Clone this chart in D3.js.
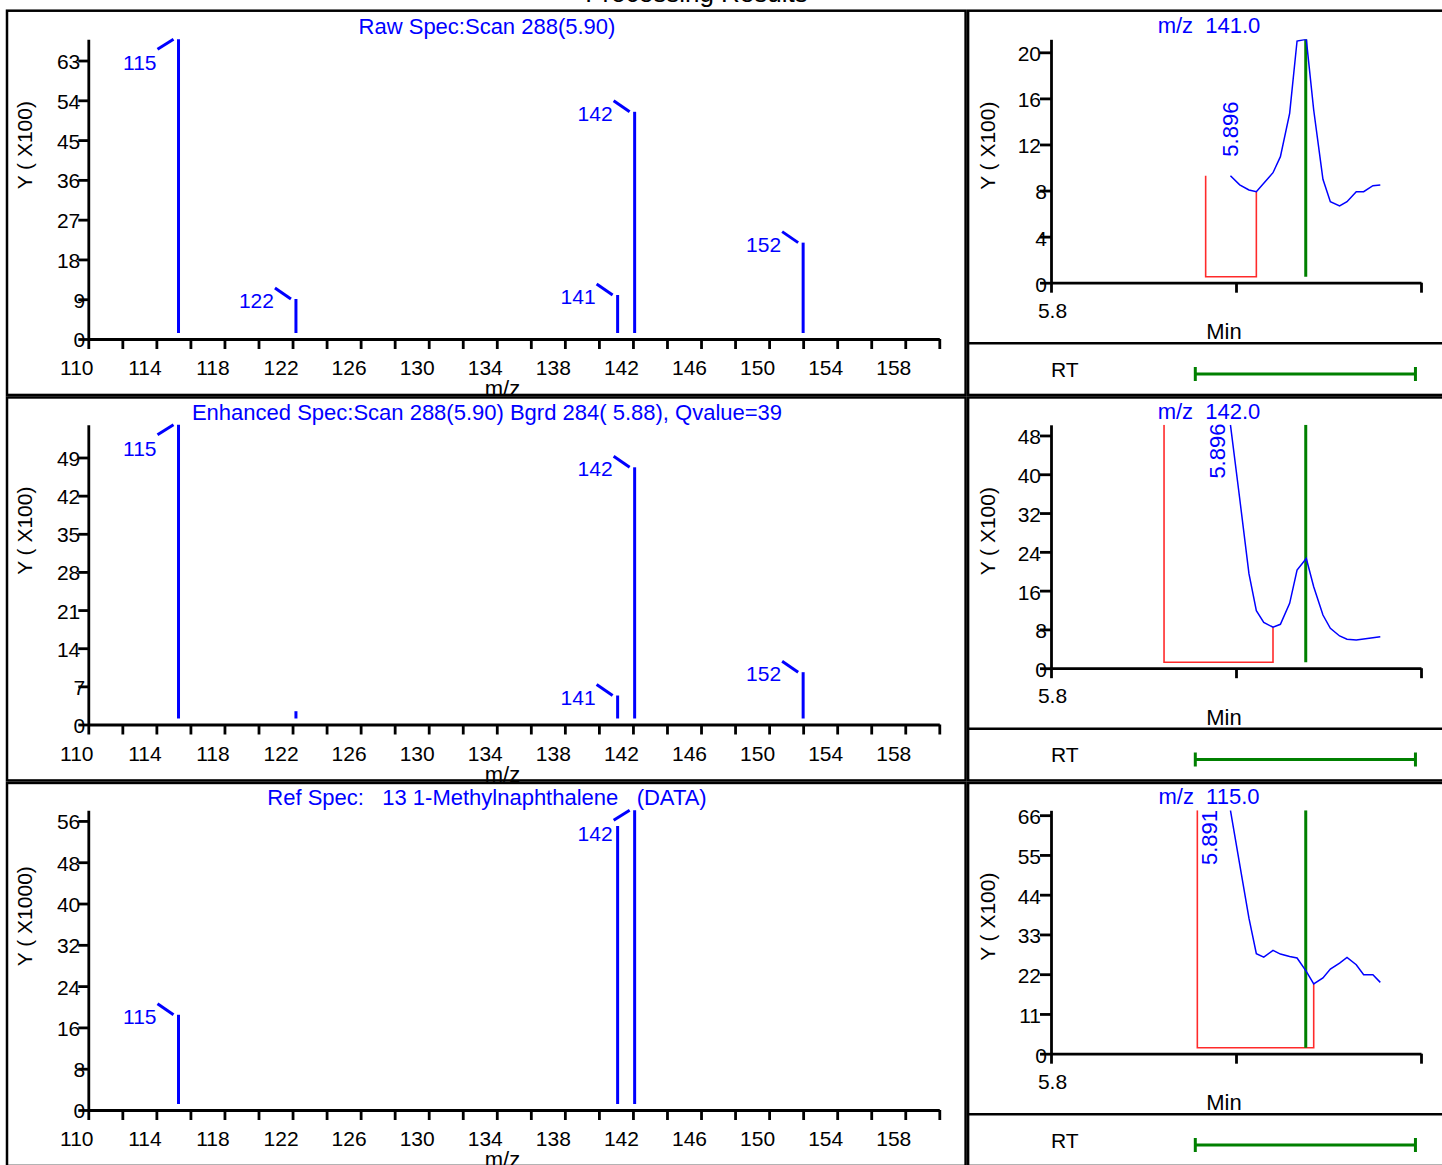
<!DOCTYPE html>
<html><head><meta charset="utf-8">
<script src="https://cdn.jsdelivr.net/npm/d3@7"></script>
<style>
html,body{margin:0;padding:0;background:#fff;overflow:hidden}
svg{display:block}
text{font-family:"Liberation Sans",Arial,Helvetica,sans-serif;white-space:pre}
</style></head><body>
<svg id="c" width="1442" height="1165"></svg>
<script>
// ---------------- data ----------------
const pageTitle = "Processing Results";

const specTitles = ["Raw Spec:Scan 288(5.90)",
  "Enhanced Spec:Scan 288(5.90) Bgrd 284( 5.88), Qvalue=39",
  "Ref Spec:   13 1-Methylnaphthalene   (DATA)"];
const specYLabels = ["Y ( X100)", "Y ( X100)", "Y ( X1000)"];
const mzTicks = [110,112,114,116,118,120,122,124,126,128,130,132,134,136,138,140,142,144,146,148,150,152,154,156,158,160];
const mzTickLabels = [110,114,118,122,126,130,134,138,142,146,150,154,158];

const rawMax = 67.8;
const rawTicks = [0,9,18,27,36,45,54,63];
const rawMz = [115.3, 122.2, 141.1, 142.1, 152.0];
const rawInt = [67.8, 9.05, 9.95, 51.4, 21.8];
const rawLabels = ["115","122","141","142","152"];
const rawDir = ["up","down","down","down","down"];

const enhMax = 55.0;
const enhTicks = [0,7,14,21,28,35,42,49];
const enhMz = [115.3, 122.2, 141.1, 142.1, 152.0];
const enhInt = [55.0, 2.44, 5.32, 47.2, 9.6];
const enhLabels = ["115","","141","142","152"];
const enhDir = ["up","","down","down","down"];

const refMax = 58.06;
const refTicks = [0,8,16,24,32,40,48,56];
const refMz = [115.3, 141.1, 142.1];
const refInt = [18.45, 55.0, 58.06];
const refLabels = ["115","","142"];
const refDir = ["down","","up"];

const chromTitles = ["m/z  141.0", "m/z  142.0", "m/z  115.0"];
const chromTime = [5.897,5.902,5.907,5.911,5.915,5.920,5.924,5.929,5.933,5.938,5.942,5.947,5.951,5.956,5.960,5.965,5.969,5.974,5.978];
const chrom141 = [9.29,8.50,8.05,7.90,8.63,9.55,10.94,14.70,20.98,21.13,14.99,8.98,7.03,6.66,7.03,7.90,7.90,8.42,8.48];
const chrom142 = [50.2,35.0,19.5,11.85,9.46,8.44,9.05,13.37,20.23,22.63,16.79,10.97,8.23,6.65,5.97,5.82,6.03,6.30,6.50];
const chrom115 = [67.35,52.4,37.5,27.65,26.74,28.57,27.57,26.91,26.47,22.77,19.30,20.95,23.43,25.09,26.63,24.62,21.86,21.86,19.74];
const chromMax = [21.13, 50.2, 67.35];
const chromYTicks = [[0,4,8,12,16,20],[0,8,16,24,32,40,48],[0,11,22,33,44,55,66]];
const timeTicks = [5.8, 5.9, 6.0];
const timeTickLabels = ["5.8", "", ""];
const integStart = [5.8836, 5.8611, 5.8791];
const integEnd = [5.911, 5.920, 5.942];
const integStartH = [9.29, 50.2, 67.35];
const integEndH = [7.90, 8.44, 19.30];
const apexTime = [5.9377, 5.9377, 5.9377];
const rtLabels = ["5.896", "5.896", "5.891"];
const rtLabelTime = [5.9011, 5.894, 5.8896];
const rtLabelVal = [10.94, 39.1, 52.2];
const rtWindow = [5.878, 5.997];

// ---------------- drawing ----------------
const BLUE = "#0000ff", GREEN = "#008000", RED = "#ff2a2a";
const svg = d3.select("#c");
svg.append("rect").attr("width",1442).attr("height",1165).attr("fill","#fff");
const defs = svg.append("defs");

const row0 = 10.7, rowH = 385.5;

svg.append("text").attr("x",696.5).attr("y",2).attr("text-anchor","middle")
  .attr("font-size",26).attr("fill","#000").text(pageTitle);

function styleAxis(a){
  a.attr("font-family",'"Liberation Sans",Arial,sans-serif').attr("font-size",21);
  a.selectAll("path,line").attr("stroke","#000").attr("stroke-width",2.8);
  a.selectAll("text").attr("fill","#000");
}

const spectra = [
  {title:specTitles[0], ylab:specYLabels[0], max:rawMax, ticks:rawTicks, mz:rawMz, val:rawInt, lab:rawLabels, dir:rawDir},
  {title:specTitles[1], ylab:specYLabels[1], max:enhMax, ticks:enhTicks, mz:enhMz, val:enhInt, lab:enhLabels, dir:enhDir},
  {title:specTitles[2], ylab:specYLabels[2], max:refMax, ticks:refTicks, mz:refMz, val:refInt, lab:refLabels, dir:refDir}
];

spectra.forEach((s,r)=>{
  const top = row0 + r*rowH;
  const ay = top + 328.3, at = top + 28.6;
  const x = d3.scaleLinear().domain([110,160]).range([88.3,939.3]);
  const y = d3.scaleLinear().domain([0,s.max]).range([ay,at]);
  const g = svg.append("g");
  g.append("text").attr("x",487).attr("y",top+23.3).attr("text-anchor","middle")
    .attr("fill",BLUE).attr("font-size",22).text(s.title);
  g.append("text").attr("transform",`translate(32,${top+134.5}) rotate(-90)`)
    .attr("text-anchor","middle").attr("font-size",21).attr("fill","#000").text(s.ylab);
  const xa = g.append("g").attr("transform",`translate(0,${ay})`)
    .call(d3.axisBottom(x).tickValues(mzTicks).tickSize(10).tickSizeOuter(0)
      .tickFormat(d=>mzTickLabels.includes(d)?String(d):""));
  styleAxis(xa);
  xa.selectAll("text").attr("x",-12).attr("y",36).attr("dy",null);
  const ya = g.append("g").attr("transform","translate(88.3,0)")
    .call(d3.axisLeft(y).tickValues(s.ticks).tickSize(10).tickSizeOuter(0));
  styleAxis(ya);
  ya.selectAll("text").attr("x",d=>String(d).length>1?-8:-3).attr("dy","0.38em");
  g.append("text").attr("x",502.5).attr("y",ay+57).attr("text-anchor","middle")
    .attr("font-size",22).attr("fill","#000").text("m/z");
  // bars
  g.selectAll(".bar").data(s.mz).enter().append("line")
    .attr("x1",d=>x(d)).attr("x2",d=>x(d))
    .attr("y1",(d,i)=>y(s.val[i])).attr("y2",ay-6)
    .attr("stroke",BLUE).attr("stroke-width",3);
  s.mz.forEach((m,i)=>{
    if(!s.lab[i]) return;
    const bx = x(m), ty = y(s.val[i]);
    const up = s.dir[i]==="up";
    g.append("line").attr("x1",bx-21).attr("y1",up?ty+10:ty-11)
      .attr("x2",bx-5).attr("y2",ty).attr("stroke",BLUE).attr("stroke-width",3);
    g.append("text").attr("x",bx-22).attr("y",up?ty+31:ty+9).attr("text-anchor","end")
      .attr("font-size",21).attr("fill",BLUE).text(s.lab[i]);
  });
});

const chroms = [chrom141, chrom142, chrom115];
chroms.forEach((vals,r)=>{
  const top = row0 + r*rowH;
  const ay = top + 272, at = top + 28.6;
  const t = d3.scaleLinear().domain([5.8,6.0]).range([1051,1421]);
  const y = d3.scaleLinear().domain([0,chromMax[r]]).range([ay,at]);
  const g = svg.append("g");
  defs.append("clipPath").attr("id","clip"+r).append("rect")
    .attr("x",1040).attr("y",at).attr("width",400).attr("height",ay-at);
  g.append("text").attr("x",1209).attr("y",top+22.6).attr("text-anchor","middle")
    .attr("fill",BLUE).attr("font-size",22).text(chromTitles[r]);
  g.append("text").attr("transform",`translate(995,${top+135}) rotate(-90)`)
    .attr("text-anchor","middle").attr("font-size",21).attr("fill","#000").text("Y ( X100)");
  const xa = g.append("g").attr("transform",`translate(0,${ay})`)
    .call(d3.axisBottom(t).tickValues(timeTicks).tickSize(10).tickSizeOuter(0)
      .tickFormat((d,i)=>timeTickLabels[i]));
  styleAxis(xa);
  xa.selectAll("text").attr("x",1).attr("y",35.3).attr("dy",null);
  const ya = g.append("g").attr("transform","translate(1051,0)")
    .call(d3.axisLeft(y).tickValues(chromYTicks[r]).tickSize(11).tickSizeOuter(0));
  styleAxis(ya);
  ya.selectAll("text").attr("x",d=>String(d).length>1?-10:-4).attr("dy","0.4em");
  g.append("text").attr("x",1224).attr("y",ay+56.3).attr("text-anchor","middle")
    .attr("font-size",22).attr("fill","#000").text("Min");
  const pg = g.append("g").attr("clip-path",`url(#clip${r})`);
  const base = ay - 6;
  pg.append("path")
    .attr("d",`M${t(integStart[r])},${y(integStartH[r])}V${base}H${t(integEnd[r])}V${y(integEndH[r])}`)
    .attr("fill","none").attr("stroke",RED).attr("stroke-width",1.6);
  pg.append("line").attr("x1",t(apexTime[r])).attr("x2",t(apexTime[r]))
    .attr("y1",at).attr("y2",base).attr("stroke",GREEN).attr("stroke-width",3);
  pg.append("path").datum(vals)
    .attr("d",d3.line().x((d,i)=>t(chromTime[i])).y(d=>y(d)))
    .attr("fill","none").attr("stroke",BLUE).attr("stroke-width",1.5);
  g.append("text").attr("transform",`translate(${t(rtLabelTime[r])},${y(rtLabelVal[r])}) rotate(-90)`)
    .attr("font-size",22).attr("fill",BLUE).text(rtLabels[r]);
  // RT row
  g.append("line").attr("x1",968).attr("x2",1450).attr("y1",top+332.6).attr("y2",top+332.6)
    .attr("stroke","#000").attr("stroke-width",2.5);
  g.append("text").attr("x",1051).attr("y",top+366).attr("font-size",21).attr("fill","#000").text("RT");
  const ry = top + 363.3;
  g.append("line").attr("x1",t(rtWindow[0])).attr("x2",t(rtWindow[1])).attr("y1",ry).attr("y2",ry)
    .attr("stroke",GREEN).attr("stroke-width",3);
  rtWindow.forEach(w=>{
    g.append("line").attr("x1",t(w)).attr("x2",t(w)).attr("y1",ry-7).attr("y2",ry+7)
      .attr("stroke",GREEN).attr("stroke-width",3);
  });
});

// frames
for(let r=0;r<3;r++){
  const top = row0 + r*rowH;
  const y0 = top + (r>0?1.25:0), y1 = top + rowH - 1.25;
  svg.append("rect").attr("x",7).attr("y",y0).attr("width",965.6-7).attr("height",y1-y0)
    .attr("fill","none").attr("stroke","#000").attr("stroke-width",2.5);
  svg.append("rect").attr("x",968.1).attr("y",y0).attr("width",500).attr("height",y1-y0)
    .attr("fill","none").attr("stroke","#000").attr("stroke-width",2.5);
}
</script>
</body></html>
